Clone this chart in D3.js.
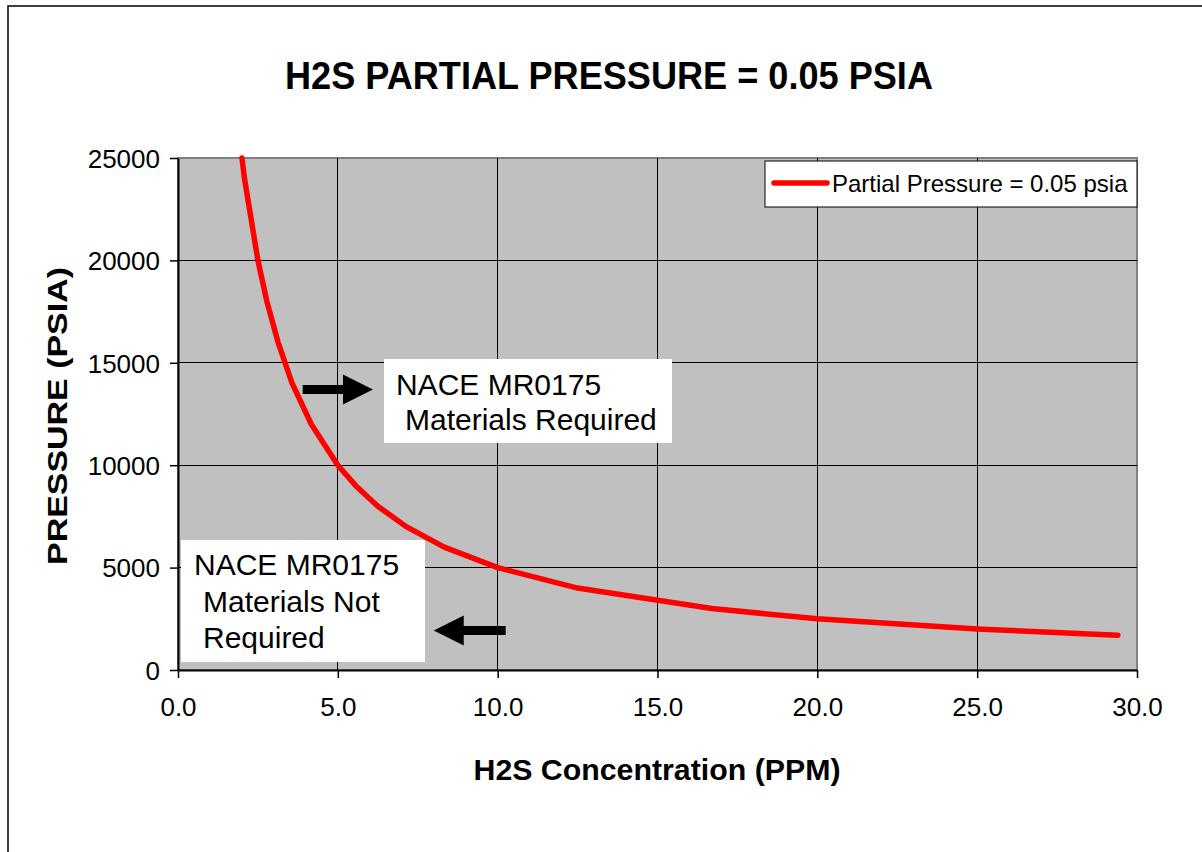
<!DOCTYPE html>
<html>
<head>
<meta charset="utf-8">
<script src="https://cdn.jsdelivr.net/npm/d3@7"></script>
<style>
  body { margin: 0; background: #fff; }
  svg { display: block; font-family: "Liberation Sans", Arial, sans-serif; }
</style>
</head>
<body>
<div id="chart"></div>
<script>
// values
const concentrationPpm = [2.0, 2.08, 2.5, 2.78, 3.13, 3.57, 4.17, 5.0, 5.56, 6.25, 7.14, 8.33, 10.0, 12.5, 16.7, 20.0, 25.0, 29.4];
const pressurePsia = [25000, 24000, 20000, 18000, 16000, 14000, 12000, 10000, 9000, 8000, 7000, 6000, 5000, 4000, 3000, 2500, 2000, 1700];
const xTicks = [0, 5, 10, 15, 20, 25, 30];
const yTicks = [0, 5000, 10000, 15000, 20000, 25000];
const seriesName = 'Partial Pressure = 0.05 psia';
const titleText = 'H2S PARTIAL PRESSURE = 0.05 PSIA';
const xTitle = 'H2S Concentration (PPM)';
const yTitle = 'PRESSURE (PSIA)';
const requiredLines = ['NACE MR0175', ' Materials Required'];
const notRequiredLines = ['NACE MR0175', ' Materials Not', ' Required'];

let width = 1202,
    height = 852;

let plot = { left: 178, right: 1137, top: 158, bottom: 670 };

let svg = d3.select('#chart').append('svg')
  .attr('width', width)
  .attr('height', height);

svg.append('rect')
  .attr('width', width).attr('height', height)
  .attr('fill', '#fff');

// outer chart frame (runs off the picture on right and bottom)
svg.append('rect')
  .attr('x', 8).attr('y', 6)
  .attr('width', width + 20).attr('height', height + 20)
  .attr('fill', 'none')
  .attr('stroke', '#000')
  .attr('stroke-width', 1.5);

let x = d3.scaleLinear().domain([0, 30]).range([plot.left, plot.right]);
let y = d3.scaleLinear().domain([0, 25000]).range([plot.bottom, plot.top]);

// plot background
svg.append('rect')
  .attr('x', plot.left).attr('y', plot.top)
  .attr('width', plot.right - plot.left)
  .attr('height', plot.bottom - plot.top)
  .attr('fill', '#c0c0c0')
  .attr('stroke', '#808080')
  .attr('stroke-width', 2);

// gridlines
let grid = svg.append('g').attr('class', 'grid');
grid.selectAll('.vgrid')
  .data(xTicks.slice(1, -1))
  .enter().append('line')
    .attr('x1', d => x(d)).attr('x2', d => x(d))
    .attr('y1', plot.top).attr('y2', plot.bottom)
    .attr('stroke', '#000')
    .attr('stroke-width', 1)
    .attr('shape-rendering', 'crispEdges');
grid.selectAll('.hgrid')
  .data(yTicks.slice(1, -1))
  .enter().append('line')
    .attr('x1', plot.left).attr('x2', plot.right)
    .attr('y1', d => y(d)).attr('y2', d => y(d))
    .attr('stroke', '#000')
    .attr('stroke-width', 1)
    .attr('shape-rendering', 'crispEdges');

// axes
let xAxis = d3.axisBottom(x)
  .tickValues(xTicks)
  .tickFormat(d3.format('.1f'))
  .tickSizeInner(8).tickSizeOuter(0).tickPadding(20);
let gx = svg.append('g')
  .attr('transform', `translate(0,${plot.bottom})`)
  .call(xAxis);

let yAxis = d3.axisLeft(y)
  .tickValues(yTicks)
  .tickFormat(d3.format('d'))
  .tickSizeInner(8).tickSizeOuter(0).tickPadding(10);
let gy = svg.append('g')
  .attr('transform', `translate(${plot.left},0)`)
  .call(yAxis);

[gx, gy].forEach(g => {
  g.select('.domain').attr('stroke', '#000').attr('stroke-width', 2);
  g.selectAll('.tick line').attr('stroke', '#000').attr('stroke-width', 1.5);
  g.selectAll('.tick text')
    .attr('fill', '#000')
    .style('font-family', '"Liberation Sans", Arial, sans-serif')
    .style('font-size', '26px');
});
gy.selectAll('.tick text').attr('dy', '0.36em');

// curve
let line = d3.line()
  .x((d, i) => x(concentrationPpm[i]))
  .y(d => y(d));

svg.append('path')
  .datum(pressurePsia)
  .attr('d', line)
  .attr('fill', 'none')
  .attr('stroke', '#ff0000')
  .attr('stroke-width', 5.5)
  .attr('stroke-linecap', 'round')
  .attr('stroke-linejoin', 'round');

// annotation boxes
function noteBox(bx, by, bw, bh, lines, positions) {
  let g = svg.append('g');
  g.append('rect')
    .attr('x', bx).attr('y', by)
    .attr('width', bw).attr('height', bh)
    .attr('fill', '#fff');
  g.selectAll('text')
    .data(lines)
    .enter().append('text')
      .attr('x', (d, i) => positions[i][0])
      .attr('y', (d, i) => positions[i][1])
      .attr('font-size', 30)
      .attr('fill', '#000')
      .text(d => d.trim());
}
noteBox(384, 359, 288, 84, requiredLines, [[396, 395], [405, 430]]);
noteBox(181, 540, 244, 122, notRequiredLines, [[194, 575], [203, 612], [203, 648]]);

// arrows, placed in data units
function arrow(x0, x1, yv, dir) {
  let px0 = x(x0), px1 = x(x1), py = y(yv);
  let headLen = 30, half = 15, shaft = 4.5;
  let hb = px1 - dir * headLen;
  let pts = [[px0, py - shaft], [hb, py - shaft], [hb, py - half], [px1, py],
             [hb, py + half], [hb, py + shaft], [px0, py + shaft]];
  svg.append('polygon')
    .attr('points', pts.map(p => p.join(',')).join(' '))
    .attr('fill', '#000');
}
arrow(3.9, 6.1, 13700, 1);
arrow(10.25, 8.0, 1930, -1);

// legend
let legend = svg.append('g');
legend.append('rect')
  .attr('x', 765).attr('y', 161)
  .attr('width', 372).attr('height', 46)
  .attr('fill', '#fff')
  .attr('stroke', '#000')
  .attr('stroke-width', 1);
legend.append('line')
  .attr('x1', 774).attr('x2', 827)
  .attr('y1', 183).attr('y2', 183)
  .attr('stroke', '#ff0000')
  .attr('stroke-width', 5.5)
  .attr('stroke-linecap', 'round');
legend.append('text')
  .attr('x', 832).attr('y', 192)
  .attr('font-size', 24)
  .text(seriesName);

// titles
svg.append('text')
  .attr('x', 609).attr('y', 89)
  .attr('text-anchor', 'middle')
  .attr('font-size', 38)
  .attr('font-weight', 'bold')
  .attr('textLength', 648)
  .attr('lengthAdjust', 'spacingAndGlyphs')
  .text(titleText);

svg.append('text')
  .attr('x', 657).attr('y', 780)
  .attr('text-anchor', 'middle')
  .attr('font-size', 30)
  .attr('font-weight', 'bold')
  .attr('textLength', 367)
  .attr('lengthAdjust', 'spacingAndGlyphs')
  .text(xTitle);

svg.append('text')
  .attr('transform', 'translate(67,416) rotate(-90)')
  .attr('text-anchor', 'middle')
  .attr('font-size', 28)
  .attr('font-weight', 'bold')
  .attr('textLength', 298)
  .attr('lengthAdjust', 'spacingAndGlyphs')
  .text(yTitle);
</script>
</body>
</html>
